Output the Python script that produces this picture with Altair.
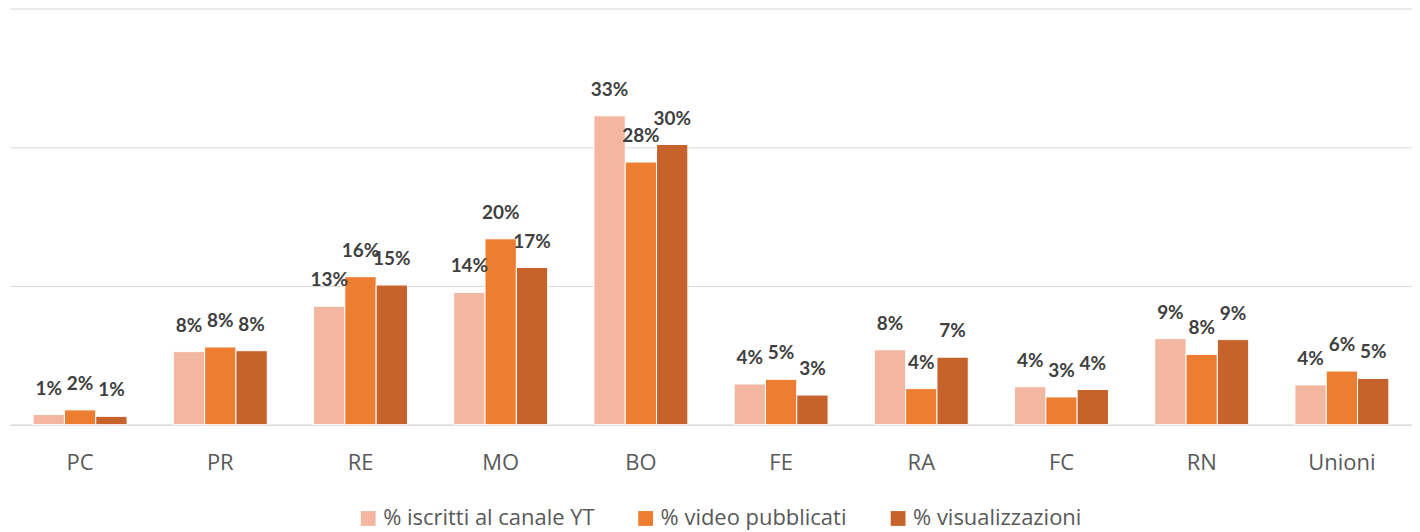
import altair as alt
import pandas as pd

categories = ["PC", "PR", "RE", "MO", "BO", "FE", "RA", "FC", "RN", "Unioni"]
series = ["% iscritti al canale YT", "% video pubblicati", "% visualizzazioni"]
iscritti = [0.011, 0.079, 0.128, 0.143, 0.334, 0.044, 0.081, 0.041, 0.093, 0.043]
video = [0.016, 0.084, 0.160, 0.201, 0.284, 0.049, 0.039, 0.030, 0.076, 0.058]
visual = [0.009, 0.080, 0.151, 0.170, 0.303, 0.032, 0.073, 0.038, 0.092, 0.050]
colors = ["#F2B6A1", "#ED7D31", "#C5632A"]

rows = []
for vals, s in zip([iscritti, video, visual], series):
    for c, v in zip(categories, vals):
        rows.append({"cat": c, "serie": s, "val": v})
df = pd.DataFrame(rows)

base = alt.Chart(df).encode(
    x=alt.X("cat:N", sort=categories,
            scale=alt.Scale(paddingInner=0.33, paddingOuter=0.165),
            axis=alt.Axis(title=None, labelAngle=0, ticks=False, domainColor="#D9D9D9",
                          labelFontSize=22, labelColor="#595959", labelPadding=28,
                          labelFont="Open Sans")),
    xOffset=alt.XOffset("serie:N", sort=series),
)

bars = base.mark_bar(stroke="white", strokeWidth=1).encode(
    y=alt.Y("val:Q", scale=alt.Scale(domain=[0, 0.45], nice=False),
            axis=alt.Axis(title=None, labels=False, ticks=False, domain=False,
                          values=[0, 0.15, 0.30, 0.45], gridColor="#D9D9D9")),
    color=alt.Color("serie:N", sort=series, scale=alt.Scale(domain=series, range=colors),
                    legend=alt.Legend(title=None, orient="none", direction="horizontal",
                                      legendX=348, legendY=500,
                                      symbolType="square", symbolSize=220, symbolStrokeWidth=0,
                                      labelFontSize=22, labelColor="#595959", labelFont="Open Sans",
                                      columnPadding=40, labelLimit=400)),
)

labels = base.mark_text(baseline="bottom", dy=-16, fontSize=19, fontWeight="bold",
                        color="#404040", font="Lato").encode(
    y=alt.Y("val:Q"),
    text=alt.Text("val:Q", format=".0%"),
)

chart = alt.layer(bars, labels).properties(
    width=1405, height=417, padding={"left": 2, "top": 0, "right": 0, "bottom": 0}
).configure(background="white").configure_view(stroke=None)

chart.save("out.html", embed_options={"renderer": "svg", "actions": False})
